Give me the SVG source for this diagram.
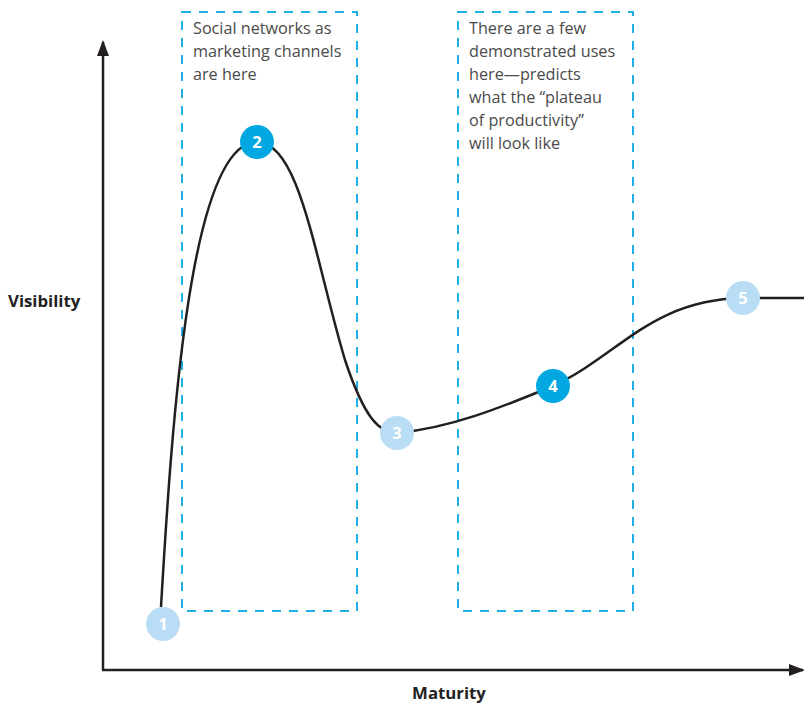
<svg xmlns="http://www.w3.org/2000/svg" width="804" height="705" viewBox="0 0 804 705">
  <style>
    .box { fill: none; stroke: #1fb0e6; stroke-width: 2; stroke-dasharray: 9 8; }
    .note { font-family: "Open Sans", "Liberation Sans", sans-serif; font-size: 16.2px; fill: #4a4a4a; }
    .axislabel { font-family: "Open Sans", "Liberation Sans", sans-serif; font-size: 16.8px; font-weight: bold; fill: #222; }
    .axis { stroke: #231f20; stroke-width: 2.5; fill: none; }
    .curve { stroke: #231f20; stroke-width: 2.5; fill: none; }
    .dark { fill: #00a7e1; }
    .light { fill: #b9ddf4; }
    .num { font-family: "Open Sans", "Liberation Sans", sans-serif; font-size: 16.5px; font-weight: bold; fill: #ffffff; text-anchor: middle; }
  </style>
  <defs>
    <marker id="arrow" markerWidth="16" markerHeight="12" refX="14" refY="6" orient="auto" markerUnits="userSpaceOnUse" viewBox="0 0 16 12">
      <path d="M0,0 L16,6 L0,12 z" fill="#231f20"/>
    </marker>
  </defs>
  <rect width="804" height="705" fill="#ffffff"/>

  <g id="box-hype">
    <rect class="box" x="182" y="12" width="175" height="599"/>
    <text class="note" x="193" y="34">Social networks as</text>
    <text class="note" x="193" y="57">marketing channels</text>
    <text class="note" x="193" y="80">are here</text>
  </g>
  <g id="box-slope">
    <rect class="box" x="458" y="12" width="175" height="599"/>
    <text class="note" x="469" y="34">There are a few</text>
    <text class="note" x="469" y="57">demonstrated uses</text>
    <text class="note" x="469" y="80">here—predicts</text>
    <text class="note" x="469" y="103">what the “plateau</text>
    <text class="note" x="469" y="126">of productivity”</text>
    <text class="note" x="469" y="149">will look like</text>
  </g>

  <g id="connectors">
    <path class="axis" d="M103,670 L103,42" marker-end="url(#arrow)"/>
    <path class="axis" d="M102,670 L803,670" marker-end="url(#arrow)"/>
    <path class="curve" d="M161,607 C172,420 190,142 257,142 C300,142 315,260 345,360 C365,420 380,433 397,433 C450,428 500,408 553,386 C620,355 650,300 743,298 L804,298"/>
  </g>

  <g id="axis-y-label"><text class="axislabel" x="8" y="307">Visibility</text></g>
  <g id="axis-x-label"><text class="axislabel" x="449" y="699" text-anchor="middle">Maturity</text></g>

  <g id="node-1"><circle class="light" cx="163" cy="624" r="17"/><text class="num" x="163" y="630">1</text></g>
  <g id="node-2"><circle class="dark" cx="257" cy="142" r="17"/><text class="num" x="257" y="148">2</text></g>
  <g id="node-3"><circle class="light" cx="397" cy="433" r="17"/><text class="num" x="397" y="439">3</text></g>
  <g id="node-4"><circle class="dark" cx="553" cy="386" r="17"/><text class="num" x="553" y="392">4</text></g>
  <g id="node-5"><circle class="light" cx="743" cy="298" r="17"/><text class="num" x="743" y="304">5</text></g>
</svg>
